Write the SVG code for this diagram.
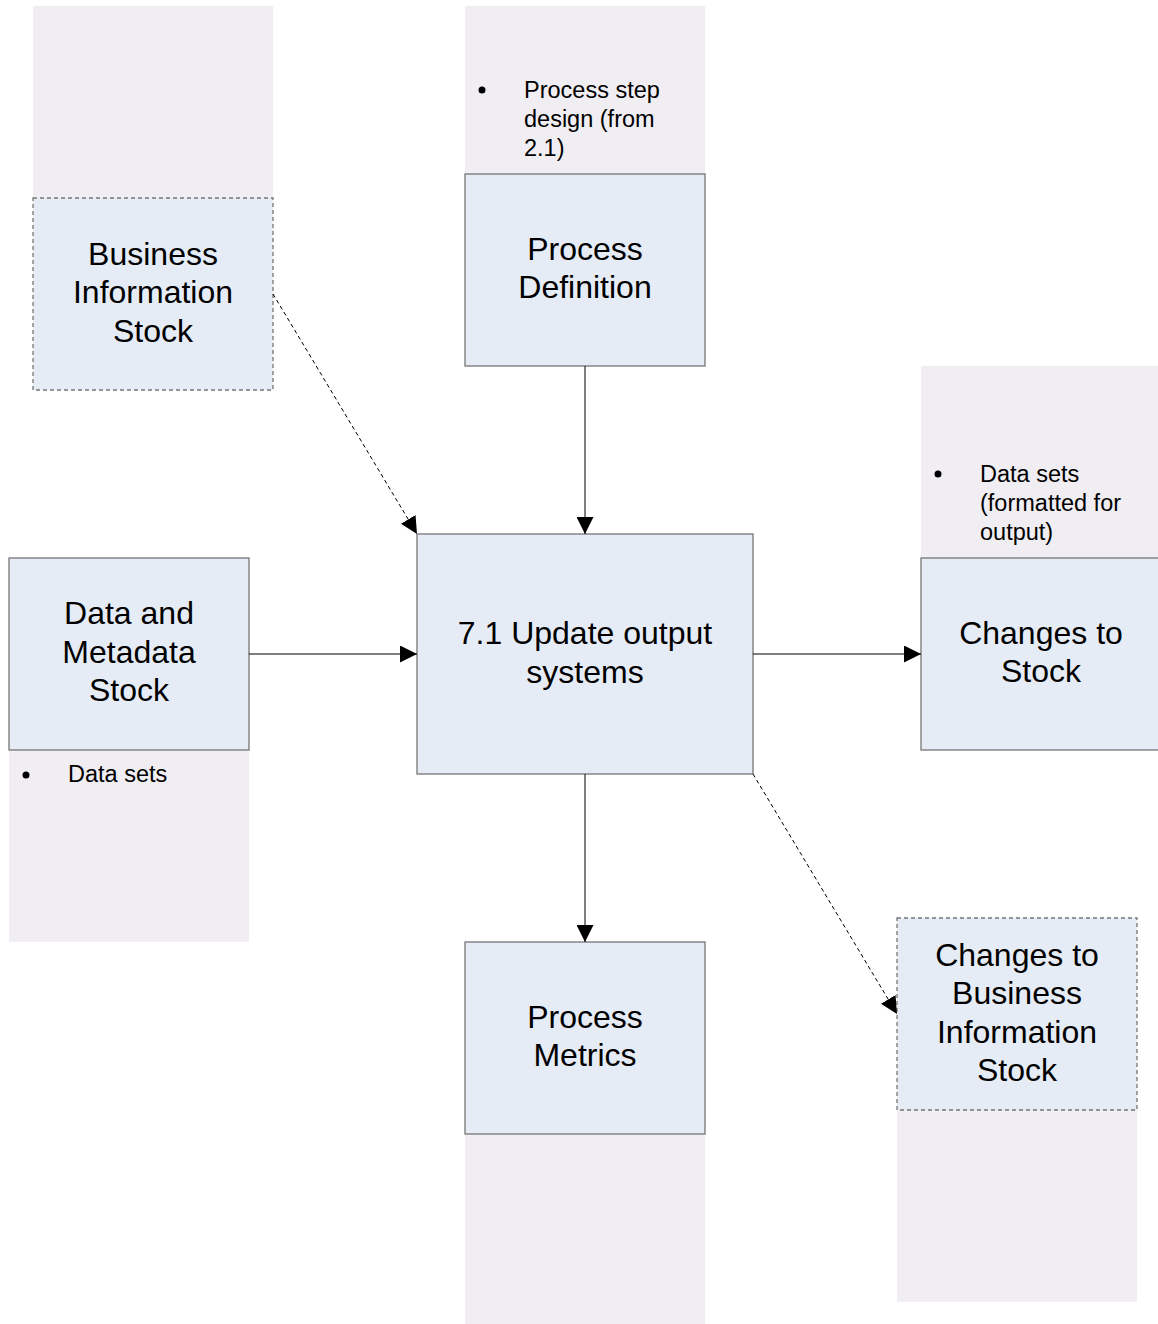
<svg xmlns="http://www.w3.org/2000/svg" width="1158" height="1324" viewBox="0 0 1158 1324">
<defs>
<style>
.panel{fill:#F0EEF3;stroke:none}
.box{fill:#E6ECF6;stroke:#767676;stroke-width:1.3}
.dbox{fill:#E6ECF6;stroke:#767676;stroke-width:1.3;stroke-dasharray:4,3}
.t{font-family:"Liberation Sans",Arial,sans-serif;font-size:32px;fill:#000;text-anchor:middle}
.b{font-family:"Liberation Sans",Arial,sans-serif;font-size:23.5px;fill:#000}
.c{stroke:#000;stroke-width:1;fill:none;marker-end:url(#ah)}
.cd{stroke:#000;stroke-width:1;fill:none;stroke-dasharray:4,3;marker-end:url(#ah)}
</style>
<marker id="ah" viewBox="0 0 10 10" refX="10" refY="5" markerWidth="17" markerHeight="17" markerUnits="userSpaceOnUse" orient="auto">
<path d="M0,0 L10,5 L0,10 z" fill="#000"/>
</marker>
</defs>
<rect width="1158" height="1324" fill="#fff"/>
<g id="business-information-stock">
<rect class="panel" x="33" y="6" width="240" height="384"/>
<rect class="dbox" x="33" y="198" width="240" height="192"/>
<text class="t" x="153" y="265">Business</text>
<text class="t" x="153" y="303">Information</text>
<text class="t" x="153" y="342">Stock</text>
</g>
<g id="process-definition">
<rect class="panel" x="465" y="6" width="240" height="360"/>
<rect class="box" x="465" y="174" width="240" height="192"/>
<circle cx="482" cy="90" r="3.5" fill="#000"/>
<text class="b" x="524" y="98">Process step</text>
<text class="b" x="524" y="127">design (from</text>
<text class="b" x="524" y="156">2.1)</text>
<text class="t" x="585" y="260">Process</text>
<text class="t" x="585" y="298">Definition</text>
</g>
<g id="changes-to-stock">
<rect class="panel" x="921" y="366" width="237" height="384"/>
<rect class="box" x="921" y="558" width="240" height="192"/>
<circle cx="938" cy="474" r="3.5" fill="#000"/>
<text class="b" x="980" y="482">Data sets</text>
<text class="b" x="980" y="511">(formatted for</text>
<text class="b" x="980" y="540">output)</text>
<text class="t" x="1041" y="644">Changes to</text>
<text class="t" x="1041" y="682">Stock</text>
</g>
<g id="data-and-metadata-stock">
<rect class="panel" x="9" y="558" width="240" height="384"/>
<rect class="box" x="9" y="558" width="240" height="192"/>
<circle cx="26" cy="775" r="3.5" fill="#000"/>
<text class="b" x="68" y="782">Data sets</text>
<text class="t" x="129" y="624">Data and</text>
<text class="t" x="129" y="663">Metadata</text>
<text class="t" x="129" y="701">Stock</text>
</g>
<g id="update-output-systems">
<rect class="box" x="417" y="534" width="336" height="240"/>
<text class="t" x="585" y="644">7.1 Update output</text>
<text class="t" x="585" y="683">systems</text>
</g>
<g id="process-metrics">
<rect class="panel" x="465" y="942" width="240" height="382"/>
<rect class="box" x="465" y="942" width="240" height="192"/>
<text class="t" x="585" y="1028">Process</text>
<text class="t" x="585" y="1066">Metrics</text>
</g>
<g id="changes-to-business-information-stock">
<rect class="panel" x="897" y="918" width="240" height="384"/>
<rect class="dbox" x="897" y="918" width="240" height="192"/>
<text class="t" x="1017" y="966">Changes to</text>
<text class="t" x="1017" y="1004">Business</text>
<text class="t" x="1017" y="1043">Information</text>
<text class="t" x="1017" y="1081">Stock</text>
</g>
<g id="connectors">
<path class="cd" d="M273,294 L417,534"/>
<path class="c" d="M585,366 L585,534"/>
<path class="c" d="M249,654 L417,654"/>
<path class="c" d="M753,654 L921,654"/>
<path class="c" d="M585,774 L585,942"/>
<path class="cd" d="M753,774 L897,1014"/>
</g>
</svg>
